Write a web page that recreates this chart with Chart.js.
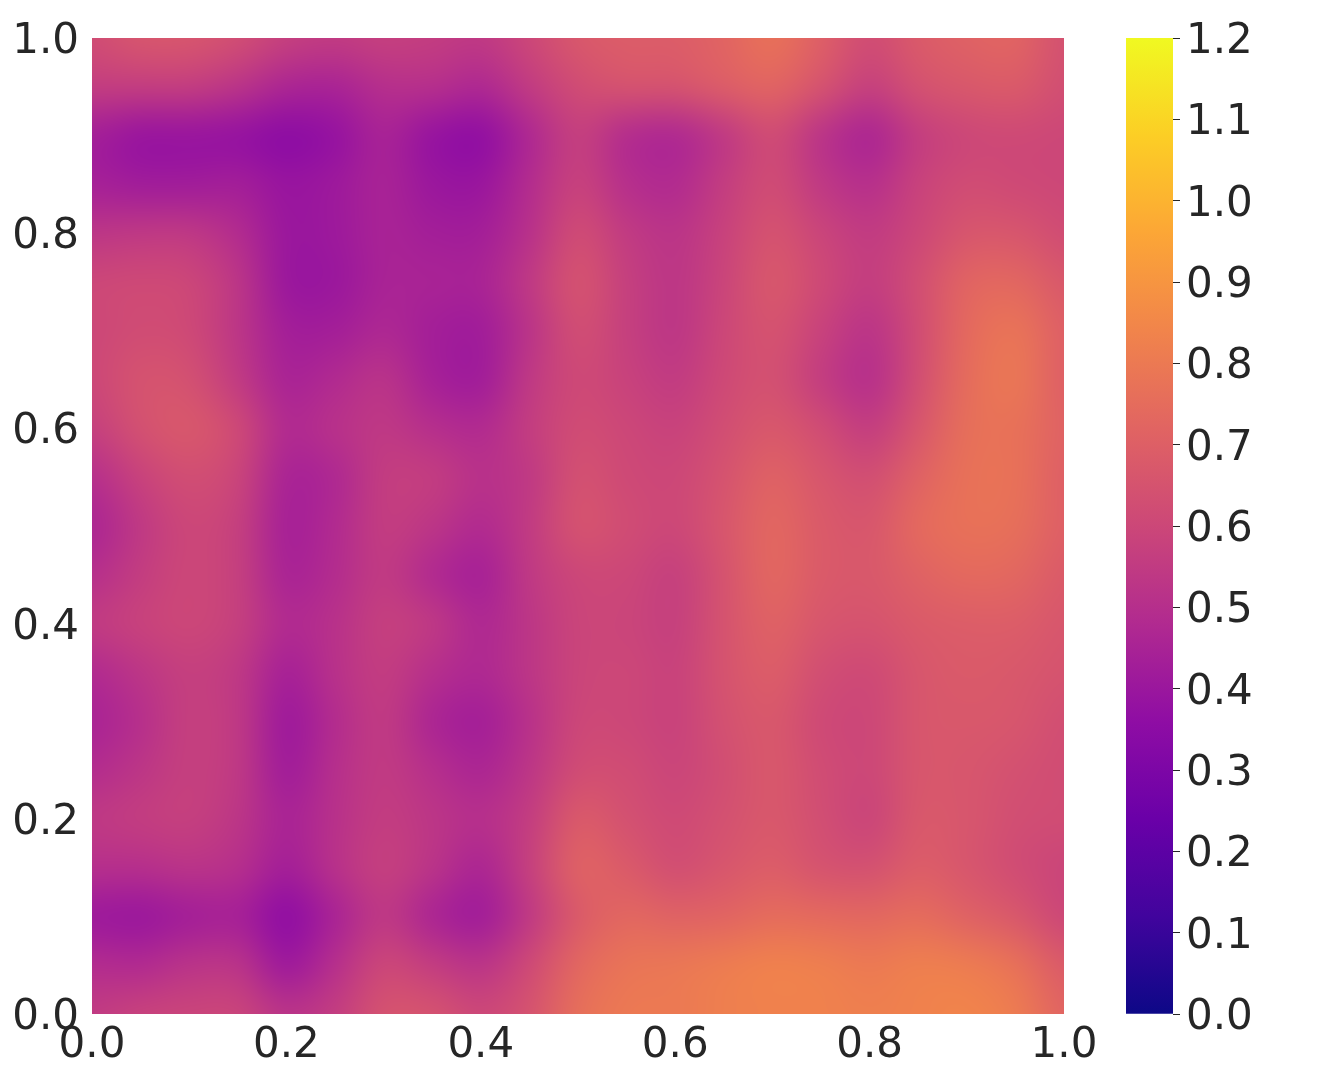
<!DOCTYPE html>
<html>
<head>
<meta charset="utf-8">
<title>Heatmap</title>
<script src="https://cdn.jsdelivr.net/npm/chart.js@4"></script>
<style>
html, body { margin: 0; padding: 0; background: #fff; }
#heat { position: absolute; left: 0; top: 0; }
#bar { position: absolute; left: 1100px; top: 0; }
</style>
</head>
<body>
<canvas id="heat" width="1100" height="1066"></canvas>
<canvas id="bar" width="219" height="1066"></canvas>
<script>
const xValues = [0, .05, .1, .15, .2, .25, .3, .35, .4, .45, .5, .55, .6, .65, .7, .75, .8, .85, .9, .95, 1];
const yValues = [1, .95, .9, .85, .8, .75, .7, .65, .6, .55, .5, .45, .4, .35, .3, .25, .2, .15, .1, .05, 0];
// one row per y value, top row first
const zRows = [
    [.62, .66, .66, .63, .57, .55, .57, .56, .54, .60, .67, .69, .69, .72, .77, .70, .62, .68, .71, .72, .64],
    [.56, .56, .56, .52, .46, .45, .50, .50, .47, .55, .62, .65, .65, .69, .72, .65, .57, .64, .67, .68, .63],
    [.43, .39, .39, .38, .35, .38, .45, .385, .365, .47, .57, .49, .47, .54, .62, .52, .46, .56, .60, .61, .60],
    [.44, .42, .42, .43, .39, .41, .45, .40, .395, .49, .58, .50, .48, .56, .62, .54, .50, .58, .62, .61, .60],
    [.53, .54, .54, .49, .40, .41, .45, .43, .43, .51, .62, .55, .52, .58, .65, .59, .55, .60, .66, .66, .62],
    [.60, .61, .60, .53, .40, .40, .45, .45, .45, .54, .65, .57, .53, .59, .67, .61, .56, .63, .72, .73, .67],
    [.60, .62, .61, .53, .43, .43, .47, .43, .42, .52, .63, .57, .53, .60, .65, .58, .52, .62, .74, .78, .70],
    [.60, .65, .64, .55, .45, .48, .52, .44, .42, .54, .61, .58, .55, .61, .64, .56, .50, .63, .75, .79, .70],
    [.57, .64, .67, .61, .48, .51, .54, .50, .48, .56, .62, .60, .58, .63, .67, .62, .56, .66, .76, .77, .71],
    [.50, .58, .63, .59, .45, .47, .56, .56, .51, .54, .64, .61, .60, .65, .71, .66, .63, .71, .77, .77, .70],
    [.46, .54, .60, .57, .44, .48, .56, .53, .48, .55, .65, .62, .60, .66, .73, .68, .66, .74, .77, .76, .70],
    [.50, .56, .60, .57, .45, .49, .55, .48, .44, .54, .60, .60, .57, .65, .73, .68, .67, .71, .74, .73, .68],
    [.55, .58, .60, .57, .48, .51, .57, .54, .47, .53, .59, .59, .57, .65, .71, .66, .65, .68, .69, .69, .66],
    [.48, .53, .57, .54, .44, .51, .56, .50, .47, .53, .59, .60, .58, .65, .69, .63, .61, .66, .68, .67, .65],
    [.45, .50, .57, .54, .41, .49, .55, .46, .43, .51, .60, .60, .58, .64, .67, .61, .60, .66, .67, .66, .63],
    [.49, .53, .57, .54, .42, .50, .55, .50, .46, .53, .62, .62, .59, .63, .67, .62, .60, .66, .66, .64, .62],
    [.54, .56, .57, .53, .45, .51, .56, .53, .50, .56, .68, .64, .61, .64, .67, .63, .59, .67, .66, .63, .62],
    [.50, .50, .52, .50, .43, .51, .57, .52, .46, .57, .71, .68, .63, .66, .69, .65, .64, .69, .66, .62, .59],
    [.41, .40, .43, .44, .36, .45, .54, .46, .42, .54, .68, .73, .71, .72, .75, .74, .73, .75, .71, .67, .60],
    [.49, .48, .52, .52, .41, .50, .60, .56, .52, .61, .73, .78, .79, .81, .83, .82, .80, .82, .81, .77, .68],
    [.55, .58, .59, .59, .52, .56, .65, .65, .60, .65, .76, .80, .80, .82, .83, .83, .82, .83, .84, .81, .72]
];
const plasma = ["#0d0887", "#41049d", "#6a00a8", "#8f0da4", "#b12a90", "#cc4778", "#e16462", "#f1844b", "#fca636", "#fcce25", "#f0f921"];
const barRange = [0, 1.2];
const barTicks = [0, .1, .2, .3, .4, .5, .6, .7, .8, .9, 1, 1.1, 1.2];
const axisTicks = [0, .2, .4, .6, .8, 1];

const textColor = "#262626";
const tickFont = { family: "'DejaVu Sans'", size: 42 };
// an empty first line with this line height moves a side axis label down 4px
const sideTickFont = { family: "'DejaVu Sans'", size: 42, lineHeight: "8px" };

function hexToRgb(hex) {
    return [1, 3, 5].map(i => parseInt(hex.slice(i, i + 2), 16));
}

function plasmaColor(value) {
    const t = Math.min(Math.max(value / barRange[1], 0), 1) * (plasma.length - 1);
    const i = Math.min(Math.floor(t), plasma.length - 2);
    const a = hexToRgb(plasma[i]);
    const b = hexToRgb(plasma[i + 1]);
    const mix = a.map((c, k) => Math.round(c + (b[k] - c) * (t - i)));
    return `rgb(${mix[0]},${mix[1]},${mix[2]})`;
}

const cells = [];
zRows.forEach((row, r) => {
    row.forEach((z, c) => cells.push({ x: xValues[c], y: yValues[r], z }));
});

// the cells are drawn as big squares by Chart.js, this paints the same cells over them smoothed
const smoothCells = {
    id: "smoothCells",
    afterDatasetsDraw(chart) {
        const { ctx, chartArea, scales } = chart;
        const small = document.createElement("canvas");
        small.width = xValues.length;
        small.height = yValues.length;
        const sctx = small.getContext("2d");
        chart.data.datasets[0].data.forEach(cell => {
            sctx.fillStyle = plasmaColor(cell.z);
            sctx.fillRect(xValues.indexOf(cell.x), yValues.indexOf(cell.y), 1, 1);
        });
        const halfX = (xValues[1] - xValues[0]) / 2;
        const halfY = (yValues[0] - yValues[1]) / 2;
        const left = scales.x.getPixelForValue(xValues[0] - halfX);
        const right = scales.x.getPixelForValue(xValues[xValues.length - 1] + halfX);
        const top = scales.y.getPixelForValue(yValues[0] + halfY);
        const bottom = scales.y.getPixelForValue(yValues[yValues.length - 1] - halfY);
        ctx.save();
        ctx.beginPath();
        ctx.rect(chartArea.left, chartArea.top, chartArea.width, chartArea.height);
        ctx.clip();
        ctx.imageSmoothingEnabled = true;
        ctx.imageSmoothingQuality = "high";
        ctx.drawImage(small, left, top, right - left, bottom - top);
        ctx.restore();
    }
};

new Chart(document.getElementById("heat").getContext("2d"), {
    type: "scatter",
    data: {
        datasets: [{
            data: cells,
            pointStyle: "rect",
            pointRadius: 36,
            borderWidth: 0,
            backgroundColor: cells.map(cell => plasmaColor(cell.z))
        }]
    },
    options: {
        responsive: false,
        animation: false,
        layout: { padding: { left: 0, top: 38, right: 36, bottom: 0 } },
        plugins: { legend: { display: false }, tooltip: { enabled: false } },
        scales: {
            x: {
                type: "linear",
                min: 0,
                max: 1,
                afterBuildTicks: scale => { scale.ticks = axisTicks.map(value => ({ value })); },
                afterFit: scale => {
                    scale.height = 52;
                    scale.paddingLeft = 0;
                    scale.paddingRight = 0;
                },
                grid: { display: false, drawTicks: false },
                border: { display: false },
                ticks: {
                    color: textColor,
                    font: tickFont,
                    padding: 7,
                    maxRotation: 0,
                    autoSkip: false,
                    callback: v => v.toFixed(1)
                }
            },
            y: {
                type: "linear",
                min: 0,
                max: 1,
                afterBuildTicks: scale => { scale.ticks = axisTicks.map(value => ({ value })); },
                afterFit: scale => { scale.width = 92; },
                grid: { display: false, drawTicks: false },
                border: { display: false },
                ticks: {
                    color: textColor,
                    font: sideTickFont,
                    padding: 13,
                    autoSkip: false,
                    callback: v => ["", v.toFixed(1)]
                }
            }
        }
    },
    plugins: [smoothCells]
});

function barGradient(context) {
    const { ctx, chartArea } = context.chart;
    if (!chartArea) return plasma[0];
    const gradient = ctx.createLinearGradient(0, chartArea.bottom, 0, chartArea.top);
    plasma.forEach((color, i) => gradient.addColorStop(i / (plasma.length - 1), color));
    return gradient;
}

new Chart(document.getElementById("bar").getContext("2d"), {
    type: "bar",
    data: {
        labels: [""],
        datasets: [{
            data: [barRange],
            backgroundColor: barGradient,
            barPercentage: 1,
            categoryPercentage: 1,
            borderWidth: 0
        }]
    },
    options: {
        responsive: false,
        animation: false,
        layout: { padding: { left: 26, top: 38, right: 0, bottom: 52 } },
        plugins: { legend: { display: false }, tooltip: { enabled: false } },
        scales: {
            x: { display: false },
            y: {
                position: "right",
                min: barRange[0],
                max: barRange[1],
                afterBuildTicks: scale => { scale.ticks = barTicks.map(value => ({ value })); },
                afterFit: scale => { scale.width = 146; },
                grid: { drawOnChartArea: false, tickLength: 7, tickColor: textColor, tickWidth: 1 },
                border: { display: false },
                ticks: {
                    color: textColor,
                    font: sideTickFont,
                    padding: 6,
                    autoSkip: false,
                    callback: v => ["", v.toFixed(1)]
                }
            }
        }
    }
});
</script>
</body>
</html>
